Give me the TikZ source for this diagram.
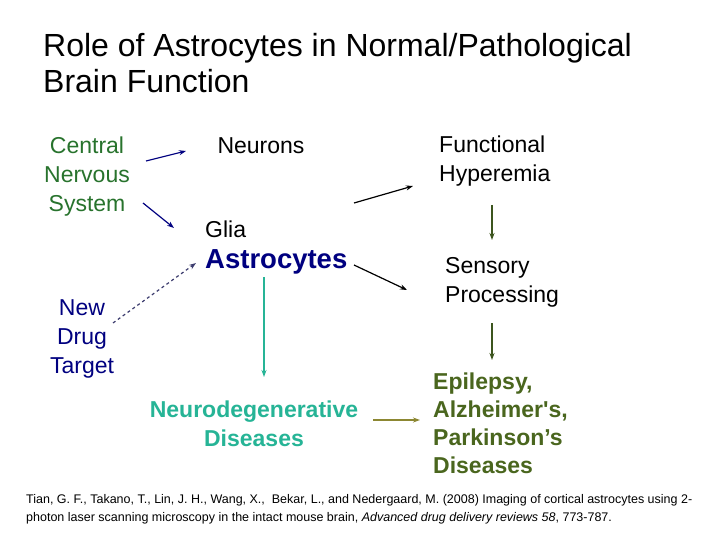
\documentclass[tikz,border=0pt]{standalone}
\usepackage{fontspec}
\setmainfont{Liberation Sans}
\newfontfamily\plainsans{Liberation Sans}[Ligatures=TeXOff]
\usetikzlibrary{arrows.meta}
\definecolor{cnsgreen}{RGB}{40,115,45}
\definecolor{astronavy}{RGB}{0,0,128}
\definecolor{degteal}{RGB}{38,180,150}
\definecolor{episgreen}{RGB}{74,102,30}
\definecolor{darkolive}{RGB}{60,85,30}
\definecolor{lightolive}{RGB}{140,135,50}
\definecolor{dashnavy}{RGB}{60,60,110}
\begin{document}
\begin{tikzpicture}[
x=1pt,y=-1pt,
>={Stealth[length=7pt,width=5pt]},
txt/.style={inner sep=0pt,font=\fontsize{23}{29}\selectfont},
arr/.style={draw,->,line width=1.2pt},
]
\useasboundingbox[fill=white] (0,0) rectangle (720,540);

%title
\node[inner sep=0pt,anchor=north west,align=left,font=\fontsize{32}{36}\selectfont] (title) at (43,33)
  {Role of Astrocytes in Normal/Pathological\\Brain Function};

%nodes
\node[txt,align=center,text=cnsgreen] (cns) at (87,176.5) {Central\\Nervous\\System};
\node[txt] (neurons) at (261,146) {Neurons};
\node[txt,anchor=west] (glia) at (205,229) {Glia};
\node[txt,anchor=west,text=astronavy,font=\fontsize{27.5}{30}\selectfont\bfseries] (astro) at (205,262) {Astrocytes};
\node[txt,align=center,text=astronavy] (drug) at (82,338.5) {New\\Drug\\Target};
\node[txt,anchor=west,align=left] (hyper) at (439,161) {Functional\\Hyperemia};
\node[txt,anchor=west,align=left] (sensory) at (445,282.5) {Sensory\\Processing};
\node[txt,align=center,text=degteal,font=\fontsize{23}{29}\selectfont\bfseries] (neurodeg) at (254,424) {Neurodegenerative\\Diseases};
\node[txt,anchor=west,align=left,text=episgreen,font=\plainsans\fontsize{23}{28}\selectfont\bfseries] (epi) at (433,423)
  {Epilepsy,\\Alzheimer's,\\Parkinson’s\\Diseases};

%arrow ends
\coordinate (cns-a) at (146,161);
\coordinate (neurons-a) at (186,151);
\coordinate (cns-b) at (143,203);
\coordinate (glia-b) at (174,228);
\coordinate (drug-c) at (113,323);
\coordinate (astro-c) at (196,263);
\coordinate (glia-d) at (354,203);
\coordinate (hyper-d) at (413,186);
\coordinate (astro-e) at (354,265);
\coordinate (sensory-e) at (407,290);
\coordinate (hyper-f) at (492,205);
\coordinate (sensory-f) at (492,240);
\coordinate (sensory-g) at (492,323);
\coordinate (epi-g) at (492,360);
\coordinate (astro-h) at (264,277);
\coordinate (neurodeg-h) at (264,377);
\coordinate (neurodeg-i) at (373,420);
\coordinate (epi-i) at (420,420);

%connectors
\path[arr,color=astronavy] (cns-a) -- (neurons-a);
\path[arr,color=astronavy] (cns-b) -- (glia-b);
\path[arr,color=dashnavy,dashed] (drug-c) -- (astro-c);
\path[arr,color=black] (glia-d) -- (hyper-d);
\path[arr,color=black] (astro-e) -- (sensory-e);
\path[arr,color=darkolive] (hyper-f) -- (sensory-f);
\path[arr,color=darkolive] (sensory-g) -- (epi-g);
\path[arr,color=degteal] (astro-h) -- (neurodeg-h);
\path[arr,color=lightolive] (neurodeg-i) -- (epi-i);

%reference
\node[inner sep=0pt,anchor=north west,align=left,font=\fontsize{12.5}{18}\selectfont] (ref) at (26,494)
  {Tian, G. F., Takano, T., Lin, J. H., Wang, X.,\ \ Bekar, L., and Nedergaard, M. (2008) Imaging of cortical astrocytes using 2-\\
   photon laser scanning microscopy in the intact mouse brain, \textit{Advanced drug delivery reviews 58}, 773-787.};
\end{tikzpicture}
\end{document}
